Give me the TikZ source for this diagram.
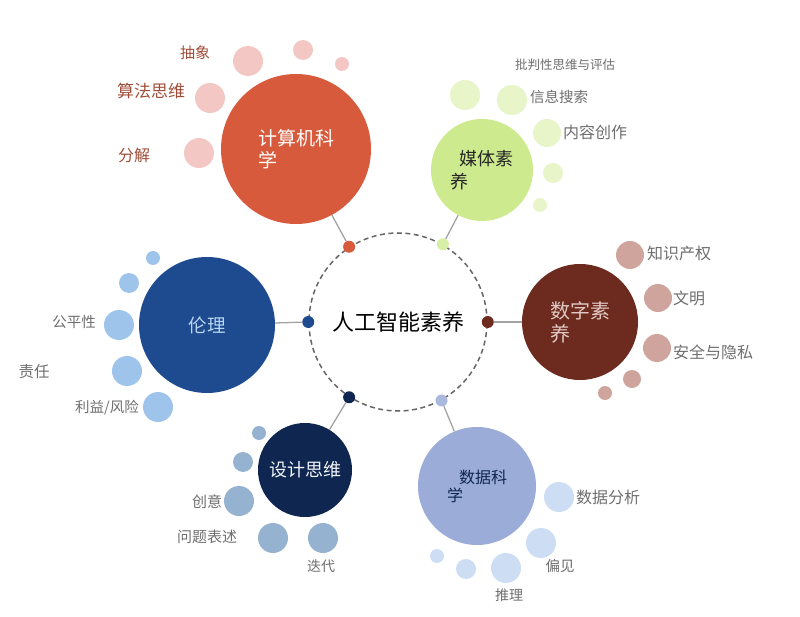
\documentclass[tikz,border=0pt]{standalone}
\usepackage{fontspec}
\setmainfont{Noto Sans CJK SC}
\definecolor{csRed}{HTML}{D75A3C}
\definecolor{csPink}{HTML}{F3C8C4}
\definecolor{csLabel}{HTML}{A04E3A}
\definecolor{mediaLime}{HTML}{CDEB8E}
\definecolor{mediaPale}{HTML}{E7F5C8}
\definecolor{digitalBrown}{HTML}{6C2B1E}
\definecolor{digitalRose}{HTML}{CFA49D}
\definecolor{ethicsNavy}{HTML}{1E4A8F}
\definecolor{ethicsSky}{HTML}{9EC4EC}
\definecolor{designNavy}{HTML}{0F2651}
\definecolor{designSteel}{HTML}{95B3D0}
\definecolor{dataLavender}{HTML}{9CACD8}
\definecolor{dataPale}{HTML}{CCDDF4}
\definecolor{labelGray}{HTML}{6E6E6E}
\definecolor{linkGray}{HTML}{A3A3A3}
\definecolor{dashGray}{HTML}{666666}

\begin{document}
\begin{tikzpicture}[
    x=1pt, y=-1pt,
    hub/.style={circle, draw=dashGray, line width=1.5pt, dash pattern=on 5pt off 3.5pt, minimum size=178pt, inner sep=0pt, font=\fontsize{22}{24}\selectfont},
    topic/.style={circle, inner sep=0pt, align=left, font=\fontsize{19}{22}\selectfont},
    bubble/.style={circle, inner sep=0pt},
    joint/.style={circle, inner sep=0pt, minimum size=12pt},
    tag/.style={inner sep=0pt, text=labelGray, font=\fontsize{15}{17}\selectfont},
    link/.style={draw=linkGray, line width=1.3pt},
]
\useasboundingbox (0,0) rectangle (800,617);

% Hub
\node[hub] (hub) at (398,322) {人工智能素养};
\node[joint, fill=csRed] (jointCs) at (hub.123) {};
\node[joint, fill=mediaLime!80!white] (jointMedia) at (hub.60) {};
\node[joint, fill=digitalBrown] (jointDigital) at (hub.0) {};
\node[joint, fill=ethicsNavy] (jointEthics) at (hub.180) {};
\node[joint, fill=designNavy] (jointDesign) at (hub.237) {};
\node[joint, fill=dataLavender!85!white] (jointData) at (hub.299) {};

% Computer science
\node[topic, fill=csRed, text=white, minimum size=150pt] (cs) at (296,149) {计算机科\\学};
\node[bubble, fill=csPink, minimum size=30pt] (csBubA) at (248,61) {};
\node[bubble, fill=csPink, minimum size=20pt] (csBubB) at (303,50) {};
\node[bubble, fill=csPink, minimum size=14pt] (csBubC) at (342,64) {};
\node[bubble, fill=csPink, minimum size=30pt] (csBubD) at (210,98) {};
\node[bubble, fill=csPink, minimum size=30pt] (csBubE) at (199,153) {};
\node[tag, text=csLabel] (tagAbstract) at (195,53) {抽象};
\node[tag, text=csLabel, font=\fontsize{17}{19}\selectfont] (tagAlgorithm) at (151,91) {算法思维};
\node[tag, text=csLabel, font=\fontsize{16}{18}\selectfont] (tagDecompose) at (134,155) {分解};

% Media literacy
\node[topic, fill=mediaLime, text=black!85, minimum size=102pt, font=\fontsize{18}{23}\selectfont] (media) at (482,170) {\hspace{9pt}媒体素\\养};
\node[bubble, fill=mediaPale, minimum size=30pt] (mediaBubA) at (465,95) {};
\node[bubble, fill=mediaPale, minimum size=30pt] (mediaBubB) at (512,100) {};
\node[bubble, fill=mediaPale, minimum size=28pt] (mediaBubC) at (547,133) {};
\node[bubble, fill=mediaPale, minimum size=20pt] (mediaBubD) at (553,173) {};
\node[bubble, fill=mediaPale, minimum size=14pt] (mediaBubE) at (540,205) {};
\node[tag, font=\fontsize{12.5}{14}\selectfont] (tagCritical) at (565,65) {批判性思维与评估};
\node[tag, font=\fontsize{14.5}{16}\selectfont] (tagSearch) at (559,97) {信息搜索};
\node[tag, font=\fontsize{16}{18}\selectfont] (tagCreate) at (595,132) {内容创作};

% Digital literacy
\node[topic, fill=digitalBrown, text=digitalRose!60!white, minimum size=116pt, font=\fontsize{20}{23}\selectfont] (digital) at (580,322) {数字素\\养};
\node[bubble, fill=digitalRose, minimum size=28pt] (digitalBubA) at (630,255) {};
\node[bubble, fill=digitalRose, minimum size=28pt] (digitalBubB) at (658,298) {};
\node[bubble, fill=digitalRose, minimum size=28pt] (digitalBubC) at (657,348) {};
\node[bubble, fill=digitalRose, minimum size=18pt] (digitalBubD) at (632,379) {};
\node[bubble, fill=digitalRose, minimum size=14pt] (digitalBubE) at (605,393) {};
\node[tag, font=\fontsize{16}{18}\selectfont] (tagProperty) at (679,253) {知识产权};
\node[tag, font=\fontsize{16}{18}\selectfont] (tagCivility) at (689,298) {文明};
\node[tag, font=\fontsize{16}{18}\selectfont] (tagPrivacy) at (713,352) {安全与隐私};

% Ethics
\node[topic, fill=ethicsNavy, text=ethicsSky!70!white, minimum size=136pt, font=\fontsize{18.5}{21}\selectfont] (ethics) at (207,325) {伦理};
\node[bubble, fill=ethicsSky, minimum size=14pt] (ethicsBubA) at (153,258) {};
\node[bubble, fill=ethicsSky, minimum size=20pt] (ethicsBubB) at (129,283) {};
\node[bubble, fill=ethicsSky, minimum size=30pt] (ethicsBubC) at (119,325) {};
\node[bubble, fill=ethicsSky, minimum size=30pt] (ethicsBubD) at (127,371) {};
\node[bubble, fill=ethicsSky, minimum size=30pt] (ethicsBubE) at (158,407) {};
\node[tag, font=\fontsize{14.5}{16}\selectfont] (tagFairness) at (74,322) {公平性};
\node[tag, font=\fontsize{15.5}{17}\selectfont] (tagDuty) at (34,372) {责任};
\node[tag, font=\fontsize{14.5}{16}\selectfont] (tagRisk) at (107,408) {利益/风险};

% Design thinking
\node[topic, fill=designNavy, text=white!88!designSteel, minimum size=94pt, font=\fontsize{18}{21}\selectfont] (design) at (305,470) {设计思维};
\node[bubble, fill=designSteel, minimum size=14pt] (designBubA) at (259,433) {};
\node[bubble, fill=designSteel, minimum size=20pt] (designBubB) at (243,462) {};
\node[bubble, fill=designSteel, minimum size=30pt] (designBubC) at (239,501) {};
\node[bubble, fill=designSteel, minimum size=30pt] (designBubD) at (273,538) {};
\node[bubble, fill=designSteel, minimum size=30pt] (designBubE) at (323,538) {};
\node[tag] (tagIdea) at (207,502) {创意};
\node[tag] (tagProblem) at (207,537) {问题表述};
\node[tag, font=\fontsize{14}{16}\selectfont] (tagIterate) at (321,566) {迭代};

% Data science
\node[topic, fill=dataLavender, text=designNavy, minimum size=118pt, font=\fontsize{16}{18}\selectfont] (data) at (477,486) {\hspace{12pt}数据科\\学};
\node[bubble, fill=dataPale, minimum size=30pt] (dataBubA) at (559,497) {};
\node[bubble, fill=dataPale, minimum size=30pt] (dataBubB) at (541,543) {};
\node[bubble, fill=dataPale, minimum size=30pt] (dataBubC) at (506,568) {};
\node[bubble, fill=dataPale, minimum size=20pt] (dataBubD) at (466,569) {};
\node[bubble, fill=dataPale, minimum size=14pt] (dataBubE) at (437,556) {};
\node[tag, font=\fontsize{16}{18}\selectfont] (tagAnalysis) at (608,497) {数据分析};
\node[tag, font=\fontsize{14.5}{16}\selectfont] (tagBias) at (560,566) {偏见};
\node[tag, font=\fontsize{14}{16}\selectfont] (tagReason) at (509,595) {推理};

% Links from topics to hub
\draw[link] (cs) -- (jointCs);
\draw[link] (media) -- (jointMedia);
\draw[link] (digital) -- (jointDigital);
\draw[link] (ethics) -- (jointEthics);
\draw[link] (design) -- (jointDesign);
\draw[link] (data) -- (jointData);

\end{tikzpicture}
\end{document}
